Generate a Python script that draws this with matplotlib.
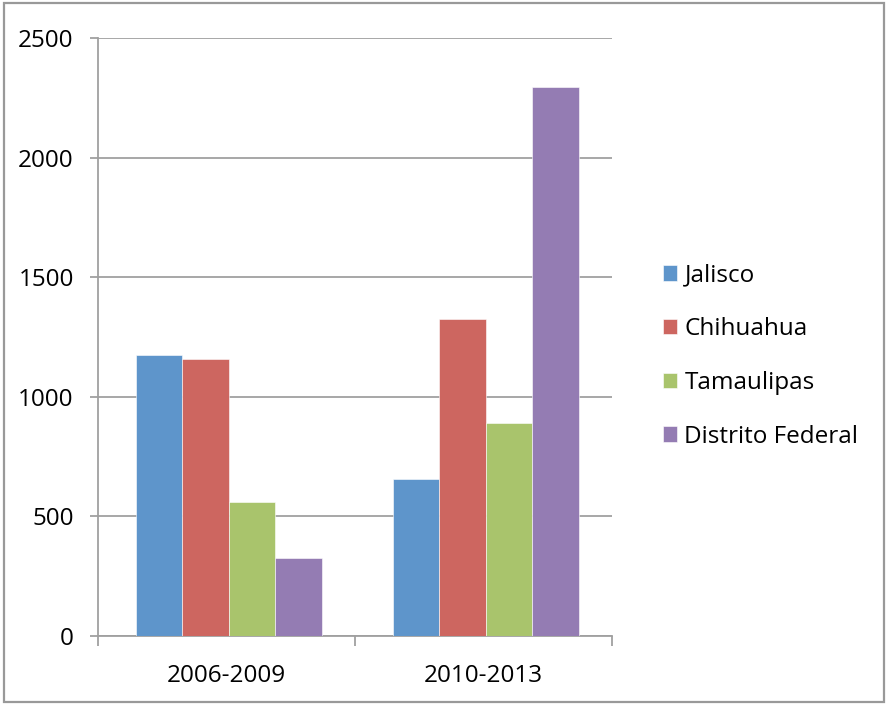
import numpy as np
import matplotlib as mpl
mpl.use('Agg')
import matplotlib.pyplot as plt
from matplotlib.patches import Rectangle

# data
periods = ['2006-2009', '2010-2013']
states = ['Jalisco', 'Chihuahua', 'Tamaulipas', 'Distrito Federal']
jalisco = [1175, 656]
chihuahua = [1158, 1325]
tamaulipas = [560, 890]
distrito_federal = [326, 2295]
colors = ['#5E95CB', '#CD6660', '#A9C46C', '#947CB3']

plt.rcParams['font.family'] = ['Open Sans', 'DejaVu Sans']
plt.rcParams['font.size'] = 17.5

fig = plt.figure(figsize=(8.88, 7.05), dpi=100)
ax = fig.add_axes([0.1104, 0.0979, 0.5788, 0.8482])

grey = '#A0A0A0'
x = np.arange(len(periods))
w = 0.181
series = [jalisco, chihuahua, tamaulipas, distrito_federal]
for i, (vals, name, c) in enumerate(zip(series, states, colors)):
    ax.bar(x + (i - 1.5) * w + 0.008, vals, width=w, color=c, label=name,
           edgecolor='white', linewidth=0.4, zorder=3)

ax.set_xlim(-0.5, 1.5)
ax.set_ylim(0, 2500)
ax.set_yticks(range(0, 2501, 500))
ax.yaxis.grid(True, color=grey, linewidth=1.3, zorder=0)
ax.set_axisbelow(True)

# category labels centred, tick marks on the boundaries
ax.set_xticks(x)
ax.set_xticklabels(periods)
ax.tick_params(axis='x', length=0, pad=20)
ax.set_xticks([-0.5, 0.5, 1.5], minor=True)
ax.tick_params(axis='x', which='minor', length=7, width=1.3, color=grey)
ax.tick_params(axis='y', length=6, width=1.3, color=grey, pad=11.5)

for s in ['top', 'right']:
    ax.spines[s].set_visible(False)
for s in ['left', 'bottom']:
    ax.spines[s].set_color(grey)
    ax.spines[s].set_linewidth(1.3)

fig.legend(loc='center left', bbox_to_anchor=(0.7325, 0.495), frameon=False,
           handlelength=0.6, handleheight=0.6, handletextpad=0.3,
           labelspacing=1.22, borderpad=0)

# outer chart border
fig.patches.append(Rectangle((0.005, 0.004), 0.991, 0.992, transform=fig.transFigure,
                             fill=False, edgecolor='#999999', linewidth=1.6))

plt.savefig('out.png', dpi=100)
